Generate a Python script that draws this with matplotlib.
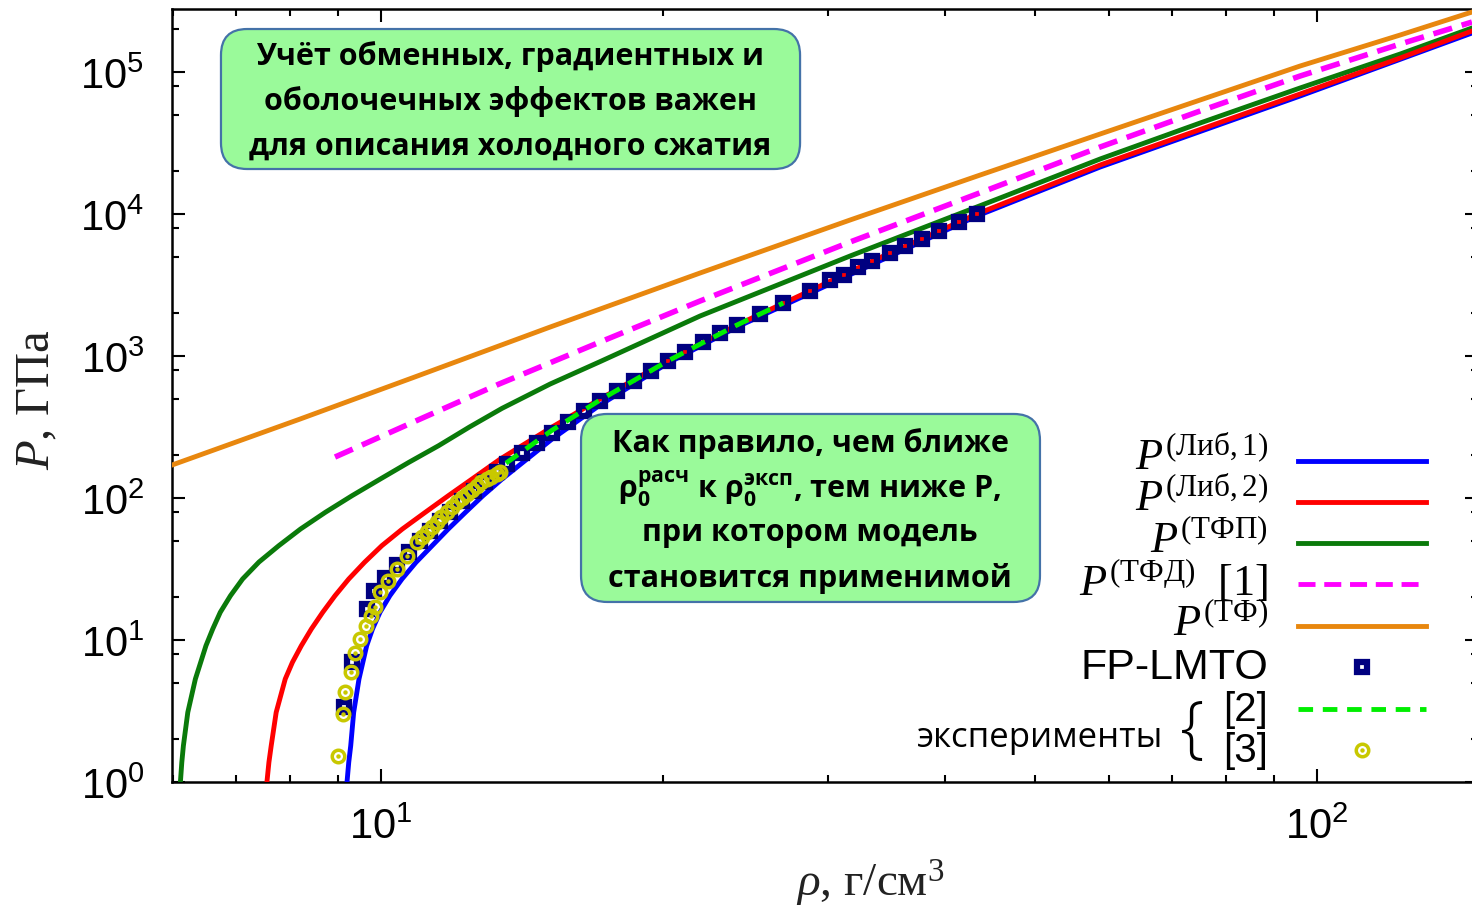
import numpy as np
import matplotlib.pyplot as plt
from matplotlib.patches import FancyBboxPatch
from matplotlib.ticker import LogLocator, NullFormatter

plt.rcParams['font.family'] = ['Liberation Sans', 'DejaVu Sans']
plt.rcParams['mathtext.fontset'] = 'custom'
plt.rcParams['mathtext.rm'] = 'Liberation Serif'
plt.rcParams['mathtext.it'] = 'Liberation Serif:italic'
plt.rcParams['mathtext.bf'] = 'Open Sans:bold'

# density (g/cm^3) and pressure (GPa)
rho_lib1 = [9.198, 9.237, 9.282, 9.350, 9.473, 9.654, 9.793, 9.975, 10.22, 10.53, 10.90, 11.34,
            11.80, 12.31, 12.85, 13.47, 15.23, 17.14, 20.26, 24.0, 43.3, 58.64, 95.9, 146.4]
P_lib1 = [1.0, 1.376, 1.801, 3.096, 5.314, 9.12, 11.95, 15.67, 20.51, 26.89, 35.26, 46.15,
          60.5, 79.3, 103.8, 136.1, 260, 452, 893, 1600, 9680, 21420, 67780, 188300]

rho_lib2 = [7.553, 7.590, 7.633, 7.727, 7.901, 8.042, 8.220, 8.425, 8.664, 8.930, 9.237, 9.603,
            10.02, 10.54, 11.15, 11.80, 12.51, 13.41, 15.23, 17.14, 20.26, 24.0, 28.7, 33.5,
            43.3, 58.64, 95.9, 122.7, 146.4]
P_lib2 = [1.0, 1.376, 1.801, 3.096, 5.314, 6.966, 9.12, 11.95, 15.67, 20.51, 26.89, 35.26,
          46.15, 60.5, 79.3, 103.8, 136.1, 188.2, 316, 498, 930, 1652, 2870, 4670,
          10000, 22130, 70000, 125500, 194500]

rho_tfp = [6.105, 6.126, 6.150, 6.217, 6.334, 6.501, 6.61, 6.734, 6.905, 7.114, 7.407, 7.776,
           8.204, 8.720, 9.311, 9.983, 10.71, 11.52, 12.43, 13.47, 15.16, 17.14, 21.92, 31.70,
           45.84, 58.64, 74.99, 95.90, 122.7, 146.4]
P_tfp = [1.0, 1.376, 1.801, 3.096, 5.314, 9.12, 11.95, 15.67, 20.51, 26.89, 35.43, 46.15,
         60.5, 79.3, 103.8, 136.1, 178.4, 233.5, 316.2, 428.3, 635, 913, 1913, 5061,
         12960, 24400, 43730, 77160, 133900, 204200]

rho_tfd = [8.930, 11.01, 13.37, 17.14, 21.92, 31.70, 44.73, 58.64, 74.99, 95.90, 122.7, 146.4]
P_tfd = [194.4, 359.9, 635.0, 1255, 2440, 6350, 15000, 29630, 53150, 93710, 157500, 224900]

rho_tf = [5.981, 8.194, 10.79, 15.16, 21.92, 31.70, 43.35, 58.64, 74.99, 95.90, 122.7, 146.4]
P_tf = [170.8, 359.9, 699.9, 1600, 3842, 9073, 18520, 36590, 63500, 110200, 182300, 264600]

rho_lmto = [9.12, 9.31, 9.66, 9.82, 10.1, 10.4, 10.7, 11.0, 11.28, 11.56, 11.85, 12.2, 12.57, 12.91,
            13.3, 13.63, 14.15, 14.68, 15.23, 15.84, 16.48, 17.14, 17.87, 18.63, 19.43, 20.26, 21.12,
            22.08, 23.02, 24.0, 25.4, 26.9, 28.7, 30.2, 31.2, 32.3, 33.5, 35.0, 36.3, 37.8, 39.5, 41.4, 43.3]
P_lmto = [3.36, 6.96, 16.5, 22.3, 27.5, 34, 41.5, 50, 58.6, 68.9, 79.7, 95.3, 112, 130,
          152, 174, 206, 244, 289, 343, 407, 479, 568, 671, 788, 922, 1072,
          1253, 1445, 1652, 1977, 2361, 2870, 3430, 3720, 4235, 4670, 5310, 5950, 6670, 7590, 8790, 10000]

rho_exp2 = [13.6, 15.23, 17.14, 20.26, 24.0, 26.9]
P_exp2 = [176, 300, 490, 925, 1652, 2361]

rho_exp3 = [8.99, 9.11, 9.15, 9.29, 9.37, 9.50, 9.64, 9.76, 9.85, 9.98, 10.18, 10.39, 10.65, 10.92,
            11.05, 11.19, 11.33, 11.47, 11.6, 11.76, 11.9, 12.05, 12.2, 12.35, 12.5, 12.66, 12.8,
            12.97, 13.1, 13.29, 13.4]
P_exp3 = [1.53, 3.01, 4.28, 5.98, 8.10, 10.2, 12.6, 14.7, 17.0, 21.7, 26.2, 31.6, 39.2, 48.7,
          53, 57.3, 62, 67.4, 73, 79.3, 86, 93.3, 100, 106.7, 114, 122, 129,
          136, 141, 147.6, 152]

# legend rows (axes fraction)
row_y = [0.4153, 0.3622, 0.3092, 0.2562, 0.2018, 0.1488, 0.0944, 0.0414]
row_labels = [r'$P^{(\mathrm{Либ,1})}$', r'$P^{(\mathrm{Либ,2})}$', r'$P^{(\mathrm{ТФП})}$',
              r'$P^{(\mathrm{ТФД})}\ \ \mathrm{[1]}$', r'$P^{(\mathrm{ТФ})}$']

c_blue = '#0000ff'
c_red = '#ff0000'
c_green = '#0a7a0a'
c_mag = '#ff00ff'
c_orange = '#e8870e'
c_navy = '#000080'
c_yel = '#c8c800'
c_lgreen = '#00ee00'

fig = plt.figure(figsize=(14.72, 9.12), dpi=100)
ax = fig.add_axes([172/1472, 129/912, 1306/1472, 773/912])

ax.plot(rho_lib1, P_lib1, color=c_blue, lw=3.5, zorder=3)
ax.plot(rho_lib2, P_lib2, color=c_red, lw=3.5, zorder=3.1)
ax.plot(rho_tfp, P_tfp, color=c_green, lw=3.5, zorder=3)
ax.plot(rho_tfd, P_tfd, color=c_mag, lw=4, dashes=(3.5, 1.8), zorder=3)
ax.plot(rho_tf, P_tf, color=c_orange, lw=3.5, zorder=3)
ax.plot(rho_lmto, P_lmto, ls='none', marker='s', ms=7, mfc='none', mec=c_navy, mew=4.5, zorder=4)
ax.plot(rho_exp3, P_exp3, ls='none', marker='o', ms=9, mfc='none', mec=c_yel, mew=2.5, zorder=5)
ax.plot(rho_exp3, P_exp3, ls='none', marker='o', ms=2.2, mfc=c_yel, mec=c_yel, zorder=5)
ax.plot(rho_exp2, P_exp2, color=c_lgreen, lw=3.5, dashes=(3, 2), zorder=6)

ax.set_xscale('log')
ax.set_yscale('log')
ax.set_xlim(5.98, 148.6)
ax.set_ylim(1, 2.78e5)

ax.xaxis.set_major_locator(LogLocator(base=10, numticks=10))
ax.xaxis.set_minor_locator(LogLocator(base=10, subs=np.arange(2, 10), numticks=30))
ax.xaxis.set_minor_formatter(NullFormatter())
ax.yaxis.set_major_locator(LogLocator(base=10, numticks=10))
ax.yaxis.set_minor_locator(LogLocator(base=10, subs=[2, 5, 8], numticks=30))
ax.yaxis.set_minor_formatter(NullFormatter())
ax.tick_params(which='both', direction='in', top=True, right=True, width=1.5)
ax.tick_params(which='major', length=9.5)
ax.tick_params(which='minor', length=5)
ax.tick_params(axis='y', which='major', labelsize=30, pad=20)
ax.tick_params(axis='x', which='major', labelsize=30, pad=18)
for s in ax.spines.values():
    s.set_linewidth(1.8)

ax.set_xlabel(r'$\rho$, г/см$^3$', fontsize=34, family='Liberation Serif', color='#222222')
ax.xaxis.set_label_coords(0.5345, -0.097)
ax.set_ylabel(r'$P$, ГПа', fontsize=35, family='Liberation Serif', color='#222222')
ax.yaxis.set_label_coords(-0.086, 0.4955)

# legend, drawn by hand
kx0, kx1, kxc, tx = 0.8622, 0.9602, 0.9112, 0.8392
line_styles = [dict(color=c_blue), dict(color=c_red), dict(color=c_green),
               dict(color=c_mag, dashes=(3.5, 1.8)), dict(color=c_orange)]
for y, lab, st in zip(row_y[:5], row_labels, line_styles):
    ax.plot([kx0, kx1], [y, y], transform=ax.transAxes, lw=3.5, clip_on=False, zorder=8, **st)
    ax.text(tx, y + 0.004, lab, transform=ax.transAxes, ha='right', va='center', fontsize=32, zorder=8)
ax.plot([kxc], [row_y[5]], transform=ax.transAxes, ls='none', marker='s', ms=7, mfc='none',
        mec=c_navy, mew=4.5, clip_on=False, zorder=8)
ax.text(tx, row_y[5], 'FP-LMTO', transform=ax.transAxes, ha='right', va='center', fontsize=31, zorder=8)
ax.plot([kx0, kx1], [row_y[6], row_y[6]], transform=ax.transAxes, color=c_lgreen, lw=3.5,
        dashes=(3, 2), clip_on=False, zorder=8)
ax.text(tx, row_y[6], '[2]', transform=ax.transAxes, ha='right', va='center', fontsize=29, zorder=8)
ax.plot([kxc], [row_y[7]], transform=ax.transAxes, ls='none', marker='o', ms=9, mfc='none',
        mec=c_yel, mew=2.5, clip_on=False, zorder=8)
ax.plot([kxc], [row_y[7]], transform=ax.transAxes, ls='none', marker='o', ms=2.2, mfc=c_yel,
        mec=c_yel, clip_on=False, zorder=8)
ax.text(tx, row_y[7], '[3]', transform=ax.transAxes, ha='right', va='center', fontsize=29, zorder=8)
ax.text(0.781, 0.066, '{', transform=ax.transAxes, ha='center', va='center', fontsize=50,
        family='Open Sans', weight='light', zorder=8)
ax.text(0.7588, 0.0582, 'эксперименты', transform=ax.transAxes, ha='right', va='center',
        fontsize=25, family='Open Sans', zorder=8)


def note(x0, y0, x1, y1):
    box = FancyBboxPatch((x0, y0), x1 - x0, y1 - y0, boxstyle='round,pad=0,rounding_size=0.02',
                         mutation_aspect=1306/773, transform=ax.transAxes, fc='#9afa9a',
                         ec='#4472a8', lw=1.6, zorder=7, clip_on=False)
    ax.add_artist(box)


note(0.0375, 0.7930, 0.4809, 0.9741)
box1_lines = ['Учёт обменных, градиентных и', 'оболочечных эффектов важен', 'для описания холодного сжатия']
for y, t in zip([0.9392, 0.8810, 0.8228], box1_lines):
    ax.text(0.2592, y, t, transform=ax.transAxes, ha='center', va='center', fontsize=22,
            family='Open Sans', weight='bold', zorder=8)

note(0.3132, 0.2329, 0.6646, 0.4761)
box2_lines = ['Как правило, чем ближе',
              r'$\mathbf{ρ_0^{расч}}$ к $\mathbf{ρ_0^{эксп}}$, тем ниже P,',
              'при котором модель', 'становится применимой']
for y, t in zip([0.4386, 0.3803, 0.3234, 0.2652], box2_lines):
    ax.text(0.4885, y, t, transform=ax.transAxes, ha='center', va='center', fontsize=22,
            family='Open Sans', weight='bold', zorder=8)

fig.savefig('out.png', dpi=100)
